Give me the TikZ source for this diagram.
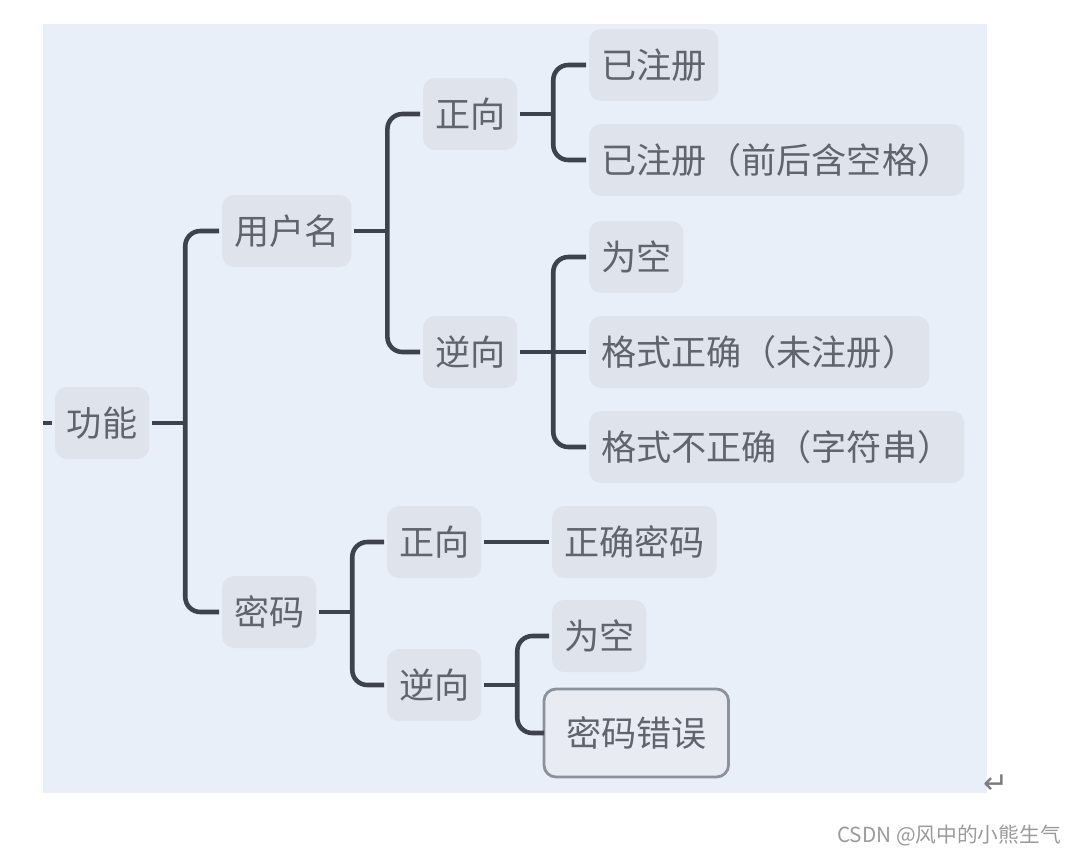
\documentclass[tikz,border=0pt]{standalone}
\usepackage{fontspec}
\newfontfamily\cjk{Noto Sans CJK SC}
\newfontfamily\symfont{DejaVu Sans}
\definecolor{bgcol}{HTML}{E9EFF8}
\definecolor{boxcol}{HTML}{DEE3EC}
\definecolor{txtcol}{HTML}{5F646D}
\definecolor{linecol}{HTML}{3D424C}
\definecolor{selcol}{HTML}{8C929C}
\definecolor{markcol}{HTML}{9A9A9A}

\begin{document}
\begin{tikzpicture}[x=0.02cm, y=-0.02cm,
    topic/.style={anchor=west, fill=boxcol, rounded corners=0.24cm,
        inner xsep=0.24cm, inner ysep=0pt, minimum height=1.44cm,
        outer sep=0.06cm, text=txtcol, font=\cjk\fontsize{20}{24}\selectfont},
    chosen/.style={topic, draw=selcol, line width=1.6pt, fill=boxcol!70!white,
        inner xsep=0.44cm, minimum height=1.76cm, outer sep=0pt},
    conn/.style={draw=linecol, line width=2.6pt, rounded corners=0.3cm}]
    \useasboundingbox (0,0) rectangle (1081,856);
    \fill[bgcol] (43,24) rectangle (987,793);

    % root and first level
    \node[topic] (gn) at (52,423) {功能};
    \node[topic] (yhm) at (219,231) {用户名};
    \node[topic] (mm) at (219,612) {密码};

    % user name branch
    \node[topic] (zx1) at (420,114) {正向};
    \node[topic] (nx1) at (420,352) {逆向};
    \node[topic] (yzc) at (586,65) {已注册};
    \node[topic] (yzck) at (586,160) {已注册（前后含空格）};
    \node[topic] (wk1) at (586,257) {为空};
    \node[topic] (gszq) at (586,352) {格式正确（未注册）};
    \node[topic] (gsbzq) at (586,447) {格式不正确（字符串）};

    % password branch
    \node[topic] (zx2) at (384,542) {正向};
    \node[topic] (nx2) at (384,685) {逆向};
    \node[topic] (zqmm) at (549,542) {正确密码};
    \node[topic] (wk2) at (549,636) {为空};
    \node[chosen] (mmcw) at (544,733) {密码错误};

    % connectors
    \coordinate (stub) at (43,423);
    \draw[conn] (stub) -- (gn.west);
    \draw[conn] (gn.east) -- ++(33,0) coordinate (j-gn);
    \draw[conn] (j-gn) |- (yhm.west);
    \draw[conn] (j-gn) |- (mm.west);

    \draw[conn] (yhm.east) -- ++(33,0) coordinate (j-yhm);
    \draw[conn] (j-yhm) |- (zx1.west);
    \draw[conn] (j-yhm) |- (nx1.west);

    \draw[conn] (zx1.east) -- ++(33,0) coordinate (j-zx1);
    \draw[conn] (j-zx1) |- (yzc.west);
    \draw[conn] (j-zx1) |- (yzck.west);

    \draw[conn] (nx1.east) -- ++(33,0) coordinate (j-nx1);
    \draw[conn] (j-nx1) |- (wk1.west);
    \draw[conn] (j-nx1) -- (gszq.west);
    \draw[conn] (j-nx1) |- (gsbzq.west);

    \draw[conn] (mm.east) -- ++(33,0) coordinate (j-mm);
    \draw[conn] (j-mm) |- (zx2.west);
    \draw[conn] (j-mm) |- (nx2.west);

    \draw[conn] (zx2.east) -- (zqmm.west);

    \draw[conn] (nx2.east) -- ++(33,0) coordinate (j-nx2);
    \draw[conn] (j-nx2) |- (wk2.west);
    \draw[conn] (j-nx2) |- (mmcw.west);

    % marks outside the picture
    \node[text=markcol!80!black, font=\symfont\fontsize{17}{20}\selectfont] (ret) at (996,784) {↵};
    \node[anchor=east, text=markcol, font=\cjk\fontsize{11.8}{14}\selectfont] (wm) at (1067,835) {CSDN @风中的小熊生气};
\end{tikzpicture}
\end{document}
